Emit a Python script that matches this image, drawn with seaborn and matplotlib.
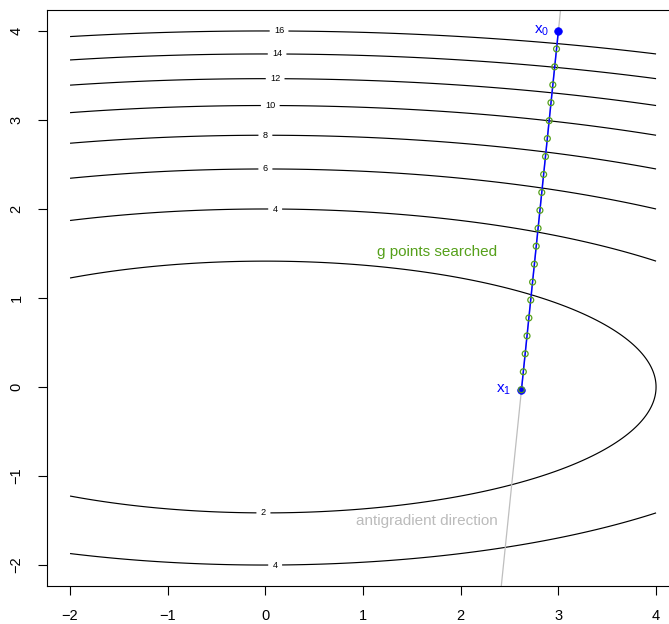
import numpy as np
import pandas as pd
import matplotlib
matplotlib.use("Agg")
import matplotlib.pyplot as plt
import seaborn as sns

# Quadratic objective f(x, y) = coef_x * x^2 + coef_y * y^2
coef_x = 1.0 / 8.0
coef_y = 1.0
levels = [2, 4, 6, 8, 10, 12, 14, 16]

# where the contour labels sit (nearest contour gets the label)
label_pos_x = [0.14, 0.12, 0.10, 0.05, 0.00, 0.00, 0.10, -0.02, 0.10]
label_pos_y = [4.00, 3.74, 3.46, 3.16, 2.83, 2.45, 2.00, -1.41, -2.00]

# start point, end point of the line search
x0_pt = [3.0, 4.0]
x1_pt = [2.622, -0.030]

# trial points evaluated along the search direction
search_x = [2.981, 2.962, 2.943, 2.924, 2.906, 2.887, 2.868, 2.849, 2.830, 2.811,
            2.792, 2.773, 2.754, 2.736, 2.717, 2.698, 2.679, 2.660, 2.641, 2.622]
search_y = [3.798, 3.597, 3.395, 3.194, 2.992, 2.791, 2.589, 2.388, 2.186, 1.985,
            1.783, 1.582, 1.380, 1.179, 0.977, 0.776, 0.574, 0.373, 0.171, -0.030]

# antigradient direction at x0: -(x/4, 2y)
direction = [-0.75, -8.0]

ticks = [-2, -1, 0, 1, 2, 3, 4]

sns.set_style("ticks")
plt.rcParams["font.family"] = ["Liberation Sans", "DejaVu Sans"]
plt.rcParams["mathtext.fontset"] = "custom"
plt.rcParams["mathtext.rm"] = "Liberation Sans"
plt.rcParams["mathtext.it"] = "Liberation Sans"

W, H = 669, 624
fig = plt.figure(figsize=(W / 100, H / 100), dpi=100)
left, right, top, bottom = 46.6, 679.5, 9.6, 586.4
ax = fig.add_axes([left / W, 1 - bottom / H, (right - left) / W, (bottom - top) / H])

gx = np.linspace(-2, 4, 241)
gy = np.linspace(-2, 4, 241)
GX, GY = np.meshgrid(gx, gy)
Z = coef_x * GX ** 2 + coef_y * GY ** 2

cs = ax.contour(GX, GY, Z, levels=levels, colors="black", linewidths=0.85)
ax.clabel(cs, levels, inline=True, fontsize=6.6, fmt="%d", inline_spacing=5,
          manual=list(zip(label_pos_x, label_pos_y)))

# search direction through x0
ax.axline(tuple(x0_pt), slope=direction[1] / direction[0], color="#BEBEBE", lw=0.9, zorder=2)

path = pd.DataFrame({"x": [x0_pt[0], x1_pt[0]], "y": [x0_pt[1], x1_pt[1]]})
sns.lineplot(data=path, x="x", y="y", sort=False, color="blue", lw=1.1, ax=ax, zorder=3)

ends = pd.DataFrame({"x": [x0_pt[0], x1_pt[0]], "y": [x0_pt[1], x1_pt[1]]})
sns.scatterplot(data=ends, x="x", y="y", color="blue", s=30, edgecolor="blue",
                linewidth=0.5, ax=ax, zorder=4)

pts = pd.DataFrame({"x": search_x, "y": search_y})
sns.scatterplot(data=pts, x="x", y="y", marker="o", s=18, facecolor="none",
                edgecolor="#55A01A", linewidth=0.9, ax=ax, zorder=5)

ax.text(2.91, 4.0, r"$\mathrm{x}_0$", color="blue", fontsize=11, ha="right", va="center")
ax.text(2.52, -0.03, r"$\mathrm{x}_1$", color="blue", fontsize=11, ha="right", va="center")
ax.text(1.76, 1.52, "g points searched", color="#55A01A", fontsize=11, ha="center", va="center")
ax.text(1.65, -1.50, "antigradient direction", color="#BBBBBB", fontsize=11, ha="center", va="center")

ax.set_xlim(-2.24, 4.24)
ax.set_ylim(-2.24, 4.24)
ax.set_xticks(ticks)
ax.set_yticks(ticks)
ax.set_xticklabels([f"\u2212{abs(t)}" if t < 0 else str(t) for t in ticks])
ax.set_yticklabels([f"\u2212{abs(t)}" if t < 0 else str(t) for t in ticks],
                   rotation=90, va="center")
ax.set_xlabel("")
ax.set_ylabel("")
ax.tick_params(axis="both", direction="out", length=6.5, width=0.8, pad=10,
               labelsize=10.5, color="black", labelcolor="black")
for s in ax.spines.values():
    s.set_visible(True)
    s.set_color("black")
    s.set_linewidth(0.8)

fig.savefig("out.png", dpi=100)
